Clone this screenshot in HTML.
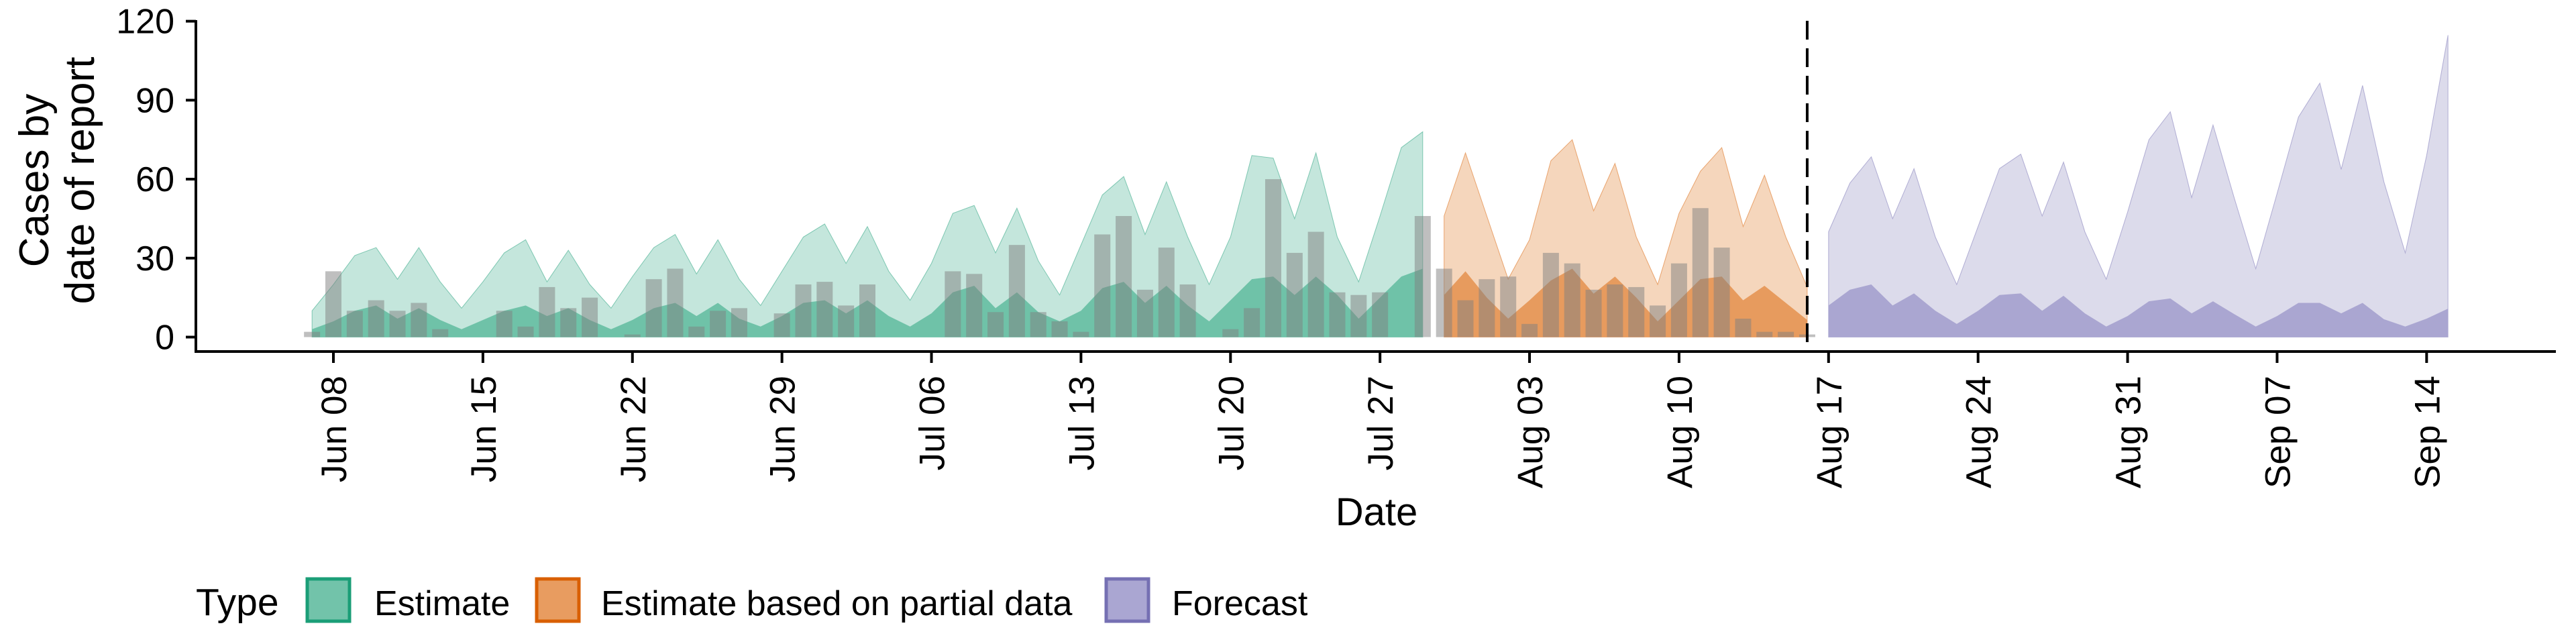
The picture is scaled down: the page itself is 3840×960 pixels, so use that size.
<!DOCTYPE html>
<html><head><meta charset="utf-8">
<style>
html,body{margin:0;padding:0;background:#fff;}
svg{display:block;font-family:"Liberation Sans",sans-serif;}
</style></head>
<body>
<svg id="chart" width="3840" height="960" viewBox="0 0 3840 960" xmlns="http://www.w3.org/2000/svg">
  <g id="bands"></g>
  <g id="bars"></g>
  <g id="axes"></g>
  <text transform="translate(72,269) rotate(-90)" text-anchor="middle" font-size="62" fill="#000">Cases by</text>
  <text transform="translate(140,269) rotate(-90)" text-anchor="middle" font-size="62" fill="#000">date of report</text>
  <text x="2052" y="783" text-anchor="middle" font-size="58" fill="#000">Date</text>
  <g>
    <text x="292" y="917" font-size="57" fill="#000">Type</text>
    <rect x="458" y="863" width="63" height="63" fill="#72c3aa" stroke="#1b9e77" stroke-width="5"/>
    <text x="558" y="917" font-size="52" fill="#000">Estimate</text>
    <rect x="800" y="863" width="63" height="63" fill="#e89c60" stroke="#d95f02" stroke-width="5"/>
    <text x="896" y="917" font-size="52" fill="#000">Estimate based on partial data</text>
    <rect x="1649" y="863" width="63" height="63" fill="#aaa6d2" stroke="#7570b3" stroke-width="5"/>
    <text x="1747" y="917" font-size="52" fill="#000">Forecast</text>
  </g>
</svg>
<script>
// day index 0 = Jun 08
const tickDays = [0,7,14,21,28,35,42,49,56,63,70,77,84,91,98];
const tickLabels = ["Jun 08","Jun 15","Jun 22","Jun 29","Jul 06","Jul 13","Jul 20","Jul 27","Aug 03","Aug 10","Aug 17","Aug 24","Aug 31","Sep 07","Sep 14"];
const yTicks = [0,30,60,90,120];

const estStart = -1;
const estHi = [10,20,31,34,22,34,21,11,21,32,37,21,33,20,11,23,34,39,24,37,22,12,25,38,43,28,42,25,14,28,47,50,32,49,29,16,35,54,61,39,59,38,20,38,69,68,45,70,38,21,46,72,78];
const estMid = [3,6,10,12,7,11,6.5,3,6.5,10,12,8,11,6.5,3,6.5,11,13,8,13,7,4,8,13,14,9,14,8,4,9,17,19.5,11,17,9.5,6,10,18.6,21,13,19.5,12,6,14,22,23,16,23,16,7,15,23,26];

const partStart = 52;
const partHi = [46,70,46,22,37,67,75,48,66,38,20,47,63,72,42,61.5,38,19];
const partMid = [16,25,15,7,14,21.5,26,16.5,23,15,6,14,22,23,14,19.5,13,6.5];

const fcStart = 70;
const fcHi = [40,58.5,68.5,45,64,38,20,42,64,69.5,46,66.5,40,22,47.5,75,85.6,53,80.6,52.7,26,54.6,83.6,96.5,63.7,95.6,59,32,69,114.7];
const fcMid = [12,18,20,12,16.6,10,5,10,16,16.6,10,15.7,9,4,8,13.6,14.7,9,13.6,8.7,4,8,13,13,9,13,6.8,4,7,10.8];

const barStart = -1;
const barVals = [2,25,10,14,10,13,3,0,0,10,4,19,11,15,0,1,22,26,4,10,11,0,9,20,21,12,20,0,0,0,25,24,9.5,35,9.5,6,2,39,46,18,34,20,0,3,11,60,32,40,17,16,17,0,46,26,14,22,23,5,32,28,18,20,19,12,28,49,34,7,2,2,1];

const NS = "http://www.w3.org/2000/svg";
function X(d){ return 497 + 31.84*d; }
function Y(v){ return 502.5 - 3.924*v; }
function mk(tag, attrs, parent){
  const el = document.createElementNS(NS, tag);
  for (const k in attrs) el.setAttribute(k, attrs[k]);
  parent.appendChild(el);
  return el;
}
function areaPath(start, vals){
  let p = "M" + X(start) + "," + Y(0);
  vals.forEach((v,i)=>{ p += " L" + X(start+i) + "," + Y(v); });
  p += " L" + X(start+vals.length-1) + "," + Y(0) + " Z";
  return p;
}
const bands = document.getElementById("bands");
const series = [
  ["estimate", estStart, estHi, estMid, "#c4e6dc", "#6fc2a8", "#1b9e77"],
  ["partial", partStart, partHi, partMid, "#f5d6bc", "#e79b5e", "#d95f02"],
  ["forecast", fcStart, fcHi, fcMid, "#dcdbeb", "#aaa6d1", "#7570b3"]
];
series.forEach(s=>{
  const outer = mk("path", {d: areaPath(s[1], s[2]), fill: s[4], stroke: s[6], "stroke-width": 1, "stroke-opacity": 0.5}, bands);
  
  
  const inner = mk("path", {d: areaPath(s[1], s[3]), fill: s[5]}, bands);
  
  
});
const bars = document.getElementById("bars");
barVals.forEach((v,i)=>{
  if (v <= 0) return;
  const d = barStart + i;
  const r = mk("rect", {x: X(d)-12, y: Y(v), width: 24, height: Y(0)-Y(v), fill: "#7f7f7f", "fill-opacity": 0.5}, bars);
  
  
});
const axes = document.getElementById("axes");
const xl = mk("line", {x1: 290, y1: 524, x2: 3810, y2: 524, stroke: "#000", "stroke-width": 4}, axes);


const yl = mk("line", {x1: 292, y1: 30, x2: 292, y2: 526, stroke: "#000", "stroke-width": 4}, axes);


yTicks.forEach(v=>{
  const t = mk("line", {x1: 277, y1: Y(v), x2: 292, y2: Y(v), stroke: "#000", "stroke-width": 4}, axes);
  
  
  const lb = mk("text", {x: 260, y: Y(v)+18, "text-anchor": "end", "font-size": 52, fill: "#000"}, axes);
  lb.textContent = String(v);
  
  
});
tickDays.forEach((d,i)=>{
  const t = mk("line", {x1: X(d), y1: 524, x2: X(d), y2: 541, stroke: "#000", "stroke-width": 4}, axes);
  
  
  const lb = mk("text", {transform: "translate(" + (X(d)+19) + ",560) rotate(-90)", "text-anchor": "end", "font-size": 53, fill: "#000"}, axes);
  lb.textContent = tickLabels[i];
  
  
});
const dl = mk("line", {x1: X(69), y1: 31, x2: X(69), y2: 526, stroke: "#000", "stroke-width": 4, "stroke-dasharray": "28 13"}, axes);


</script>
</body></html>
